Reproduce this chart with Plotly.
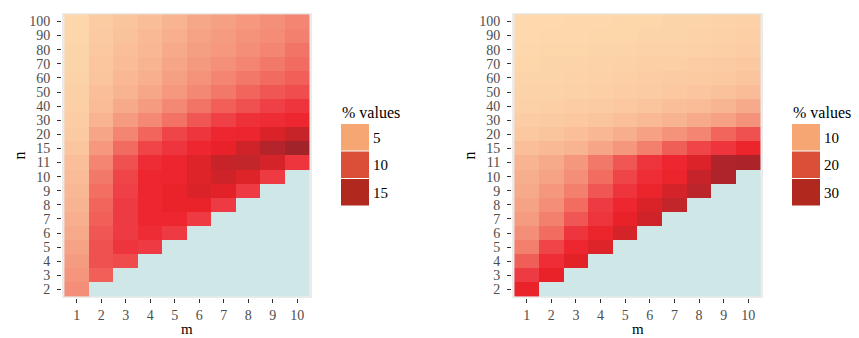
import plotly.graph_objects as go

W, H = 859, 338

m_labels = ["1", "2", "3", "4", "5", "6", "7", "8", "9", "10"]
n_labels = ["2", "3", "4", "5", "6", "7", "8", "9", "10", "11",
            "15", "20", "30", "40", "50", "60", "70", "80", "90", "100"]

N = None
# % values, rows follow n_labels (bottom to top), columns follow m_labels
left_values = [
    [6.1, N, N, N, N, N, N, N, N, N],
    [5.6, 8.8, N, N, N, N, N, N, N, N],
    [5.1, 9.5, 9.9, N, N, N, N, N, N, N],
    [4.6, 9.5, 11.2, 10.9, N, N, N, N, N, N],
    [4.1, 9.2, 10.9, 11.6, 10.9, N, N, N, N, N],
    [3.7, 8.8, 10.9, 11.9, 11.9, 10.9, N, N, N, N],
    [3.4, 8.5, 10.9, 11.9, 12.6, 12.6, 10.9, N, N, N],
    [3.1, 8.0, 10.5, 11.9, 12.6, 13.9, 13.3, 10.9, N, N],
    [2.7, 7.5, 10.2, 11.9, 12.2, 13.6, 14.6, 13.6, 10.9, N],
    [2.4, 6.8, 9.5, 11.6, 12.2, 13.6, 15.0, 15.3, 14.3, 11.2],
    [1.9, 5.4, 8.2, 10.2, 11.2, 11.9, 12.9, 14.6, 16.0, 17.0],
    [1.5, 4.4, 6.8, 8.5, 10.2, 11.2, 11.9, 12.2, 13.9, 15.0],
    [1.2, 3.4, 5.1, 6.5, 7.8, 9.2, 10.5, 11.4, 11.6, 11.9],
    [1.0, 2.7, 4.1, 5.1, 6.5, 7.7, 8.8, 9.5, 10.5, 11.2],
    [0.9, 2.4, 3.4, 4.3, 5.4, 6.5, 7.5, 8.5, 9.2, 9.7],
    [0.7, 2.0, 3.1, 3.7, 4.8, 5.8, 6.8, 7.5, 8.2, 8.8],
    [0.5, 1.9, 2.7, 3.4, 4.4, 5.3, 6.0, 6.8, 7.5, 8.2],
    [0.5, 1.7, 2.4, 3.1, 4.1, 4.9, 5.4, 6.1, 6.8, 7.7],
    [0.3, 1.5, 2.2, 2.9, 3.7, 4.6, 5.1, 5.8, 6.3, 7.1],
    [0.3, 1.4, 2.0, 2.6, 3.4, 4.3, 4.8, 5.4, 6.0, 6.8],
]

right_values = [
    [25.2, N, N, N, N, N, N, N, N, N],
    [21.8, 25.8, N, N, N, N, N, N, N, N],
    [17.7, 23.1, 26.5, N, N, N, N, N, N, N],
    [14.3, 20.4, 23.8, 27.2, N, N, N, N, N, N],
    [12.2, 16.3, 22.4, 24.5, 28.6, N, N, N, N, N],
    [10.2, 14.3, 18.4, 22.4, 25.8, 29.2, N, N, N, N],
    [9.2, 12.2, 16.3, 21.8, 23.8, 27.9, 30.6, N, N, N],
    [8.2, 10.9, 14.3, 18.4, 22.4, 24.5, 28.6, 31.3, N, N],
    [7.5, 9.2, 12.2, 16.3, 20.4, 23.1, 24.5, 30.2, 32.6, N],
    [6.8, 8.2, 10.9, 15.0, 18.4, 22.4, 23.8, 27.5, 32.6, 33.0],
    [4.8, 5.8, 6.8, 8.8, 10.9, 14.3, 17.7, 20.4, 22.4, 24.5],
    [3.4, 4.1, 5.1, 6.1, 7.5, 9.5, 11.6, 13.6, 17.0, 19.0],
    [2.4, 2.7, 3.4, 4.1, 4.8, 5.8, 6.8, 8.2, 9.5, 11.6],
    [1.7, 2.0, 2.4, 2.7, 3.4, 4.1, 4.8, 5.4, 6.5, 8.2],
    [1.4, 1.4, 1.7, 2.0, 2.4, 2.7, 3.4, 3.7, 4.4, 5.4],
    [1.0, 1.0, 1.4, 1.7, 2.0, 2.4, 2.7, 3.1, 3.4, 4.1],
    [0.7, 1.0, 1.0, 1.4, 1.7, 2.0, 2.0, 2.4, 2.7, 3.4],
    [0.3, 0.7, 0.7, 1.0, 1.0, 1.4, 1.4, 1.7, 2.0, 2.4],
    [0.0, 0.3, 0.3, 0.7, 0.7, 1.0, 1.0, 1.4, 1.7, 2.0],
    [0.0, 0.0, 0.3, 0.3, 0.7, 0.7, 1.0, 1.0, 1.4, 1.7],
]

left_breaks = [5, 10, 15]
right_breaks = [10, 20, 30]
legend_key_colors = ["#F5A673", "#DB4E37", "#B0281E"]
legend_title = "% values"

heat_scale = [
    [0.00, "#FDD9AD"], [0.10, "#FBC8A0"], [0.20, "#F8B390"], [0.30, "#F59C80"],
    [0.40, "#F38572"], [0.48, "#F26C60"], [0.56, "#EF5050"], [0.64, "#EE3A42"],
    [0.70, "#EE2630"], [0.76, "#E82228"], [0.84, "#D42329"], [0.92, "#BC252A"],
    [1.00, "#A2232A"],
]
NA_COLOR = "#CFE8E7"
FONT = "Liberation Serif"


def px_x(p):
    return p / W


def px_y(p):
    return 1 - p / H


panels = [
    dict(values=left_values, zmax=17.0, x0=62, x1=312, breaks=left_breaks, leg_x=341),
    dict(values=right_values, zmax=34.0, x0=512, x1=763, breaks=right_breaks, leg_x=792),
]
TOP, BOTTOM = 13, 298

fig = go.Figure()
annotations = []
shapes = []

for i, p in enumerate(panels):
    xa = "x" if i == 0 else "x2"
    ya = "y" if i == 0 else "y2"
    mask = [[1 if v is None else None for v in row] for row in p["values"]]
    fig.add_trace(go.Heatmap(
        x=m_labels, y=n_labels, z=mask, xaxis=xa, yaxis=ya,
        colorscale=[[0, NA_COLOR], [1, NA_COLOR]], showscale=False,
        hoverinfo="skip"))
    fig.add_trace(go.Heatmap(
        x=m_labels, y=n_labels, z=p["values"], xaxis=xa, yaxis=ya,
        colorscale=heat_scale, zmin=0, zmax=p["zmax"], showscale=False))

    axis_common = dict(
        type="category", showgrid=False, zeroline=False, showline=False,
        ticks="outside", ticklen=4, tickwidth=1, tickcolor="#333333",
        tickfont=dict(family=FONT, size=14, color="#4D4D4D"),
        fixedrange=True, automargin=False, tickmode="array",
    )
    fig.update_layout(**{
        ("xaxis" if i == 0 else "xaxis2"): dict(
            axis_common, categoryorder="array", categoryarray=m_labels,
            tickvals=m_labels, ticktext=m_labels,
            range=[-0.6, 9.6], domain=[px_x(p["x0"]), px_x(p["x1"])],
            anchor=ya, ticklabelstandoff=0),
        ("yaxis" if i == 0 else "yaxis2"): dict(
            axis_common, categoryorder="array", categoryarray=n_labels,
            tickvals=n_labels, ticktext=n_labels,
            range=[-0.6, 19.6], domain=[px_y(BOTTOM), px_y(TOP)],
            anchor=xa, ticklabelstandoff=4),
    })

    # axis titles
    annotations.append(dict(
        text="m", x=px_x((p["x0"] + p["x1"]) / 2), y=px_y(329), xref="paper", yref="paper",
        showarrow=False, xanchor="center", yanchor="middle",
        font=dict(family=FONT, size=15, color="black")))
    annotations.append(dict(
        text="n", x=px_x(p["x0"] - 43), y=px_y((TOP + BOTTOM) / 2), xref="paper", yref="paper",
        showarrow=False, xanchor="center", yanchor="middle", textangle=-90,
        font=dict(family=FONT, size=16, color="black")))

    # legend
    lx = p["leg_x"]
    annotations.append(dict(
        text=legend_title, x=px_x(lx - 1), y=px_y(112), xref="paper", yref="paper",
        showarrow=False, xanchor="left", yanchor="middle",
        font=dict(family=FONT, size=16, color="black")))
    key_top = 124
    key_h = 27.5
    for k, (b, c) in enumerate(zip(p["breaks"], legend_key_colors)):
        y0 = key_top + k * key_h
        shapes.append(dict(
            type="rect", xref="paper", yref="paper",
            x0=px_x(lx), x1=px_x(lx + 28), y0=px_y(y0 + key_h - 1), y1=px_y(y0),
            fillcolor=c, line=dict(width=0)))
        annotations.append(dict(
            text=str(b), x=px_x(lx + 30), y=px_y(y0 + key_h / 2), xref="paper", yref="paper",
            showarrow=False, xanchor="left", yanchor="middle",
            font=dict(family=FONT, size=15, color="black")))

fig.update_layout(
    width=W, height=H,
    margin=dict(l=0, r=0, t=0, b=0, autoexpand=False),
    paper_bgcolor="white",
    plot_bgcolor="#EBEBEB",
    showlegend=False,
    annotations=annotations,
    shapes=shapes,
    font=dict(family=FONT),
)

fig.write_html(
    "out.html",
    config={"displayModeBar": False},
    post_script="document.body.style.margin='0px';document.body.style.overflow='hidden';",
)
